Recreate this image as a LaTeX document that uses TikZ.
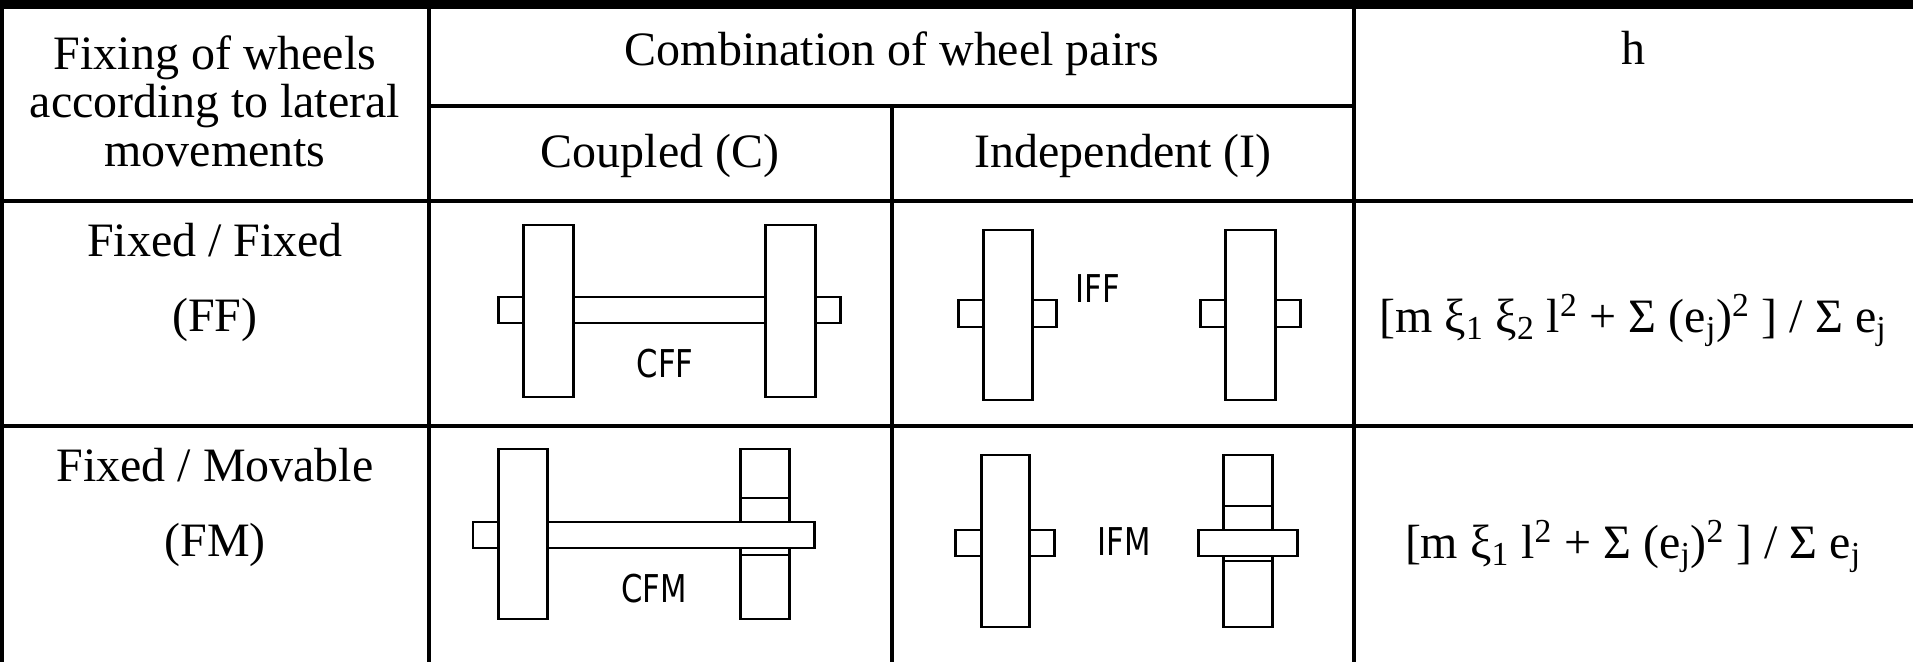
\documentclass[tikz,border=0pt]{standalone}
\usepackage{fontspec}
\setmainfont{Liberation Serif}
\newfontfamily\tagfont[FakeStretch=0.8]{DejaVu Sans}
\usepackage{tikz}
\tikzset{
  cell/.style={inner sep=0pt, anchor=base, font=\fontsize{27.3}{27.6}\selectfont},
  tag/.style={inner sep=0pt, font=\tagfont\fontsize{21.8}{22}\selectfont},
  tableline/.style={line width=1.9pt},
  wheel/.style={draw, fill=white, line width=1.7pt},
}

\begin{document}
\begin{tikzpicture}[x=0.02cm, y=-0.02cm]
\useasboundingbox (0,0) rectangle (1913,662);

% table rules
\fill (0,0) rectangle (1913,9);
\fill (0,9) rectangle (3.5,662);
\draw[tableline] (429,9) -- (429,662);
\draw[tableline] (892,106) -- (892,662);
\draw[tableline] (1354,9) -- (1354,662);
\draw[tableline] (429,106) -- (1354,106);
\draw[tableline] (0,201) -- (1913,201);
\draw[tableline] (0,426) -- (1913,426);

% header
\node[cell] (fix-1) at (215,70)  {Fixing of wheels};
\node[cell] (fix-2) at (215,118) {according to lateral};
\node[cell] (fix-3) at (215,167) {movements};
\node[cell] (comb) at (892,66)  {Combination of wheel pairs};
\node[cell] (C) at (660,168) {Coupled (C)};
\node[cell] (I) at (1123,168) {Independent (I)};
\node[cell] (h) at (1633,65) {h};

% rows
\node[cell] (FF-1) at (215,256) {Fixed / Fixed};
\node[cell] (FF-2) at (215,331) {(FF)};
\node[cell] (FM-1) at (215,481) {Fixed / Movable};
\node[cell] (FM-2) at (215,556) {(FM)};
\node[cell] (h-FF) at (1633,332) {[m ξ\textsubscript{1} ξ\textsubscript{2} l\textsuperscript{2} + Σ (e\textsubscript{j})\textsuperscript{2} ] / Σ e\textsubscript{j}};
\node[cell] (h-FM) at (1633,558) {[m ξ\textsubscript{1} l\textsuperscript{2} + Σ (e\textsubscript{j})\textsuperscript{2} ] / Σ e\textsubscript{j}};

% CFF
\draw[wheel] (498,297) rectangle (523,323);
\draw[wheel] (573,297) rectangle (765,323);
\draw[wheel] (815,297) rectangle (840,323);
\draw[wheel] (523,225) rectangle (573,397);
\draw[wheel] (765,225) rectangle (815,397);
\node[tag] (CFF) at (665,364) {CFF};

% IFF
\draw[wheel] (958,300) rectangle (983,327);
\draw[wheel] (1032,300) rectangle (1056,327);
\draw[wheel] (983,230) rectangle (1032,400);
\draw[wheel] (1200,300) rectangle (1225,327);
\draw[wheel] (1275,300) rectangle (1300,327);
\draw[wheel] (1225,230) rectangle (1275,400);
\node[tag] (IFF) at (1098,289) {IFF};

% CFM
\draw[wheel] (473,522) rectangle (498,548);
\draw[wheel] (498,449) rectangle (547,619);
\draw[wheel] (740,449) rectangle (789,619);
\draw[wheel] (740,498) -- (789,498);
\draw[wheel] (740,555) -- (789,555);
\draw[wheel] (547,522) rectangle (814,548);
\node[tag] (CFM) at (654,589) {CFM};

% IFM
\draw[wheel] (955,530) rectangle (981,556);
\draw[wheel] (1029,530) rectangle (1054,556);
\draw[wheel] (981,455) rectangle (1029,627);
\draw[wheel] (1223,455) rectangle (1272,627);
\draw[wheel] (1223,506) -- (1272,506);
\draw[wheel] (1223,561) -- (1272,561);
\draw[wheel] (1198,530) rectangle (1297,556);
\node[tag] (IFM) at (1124,542) {IFM};
\end{tikzpicture}
\end{document}
